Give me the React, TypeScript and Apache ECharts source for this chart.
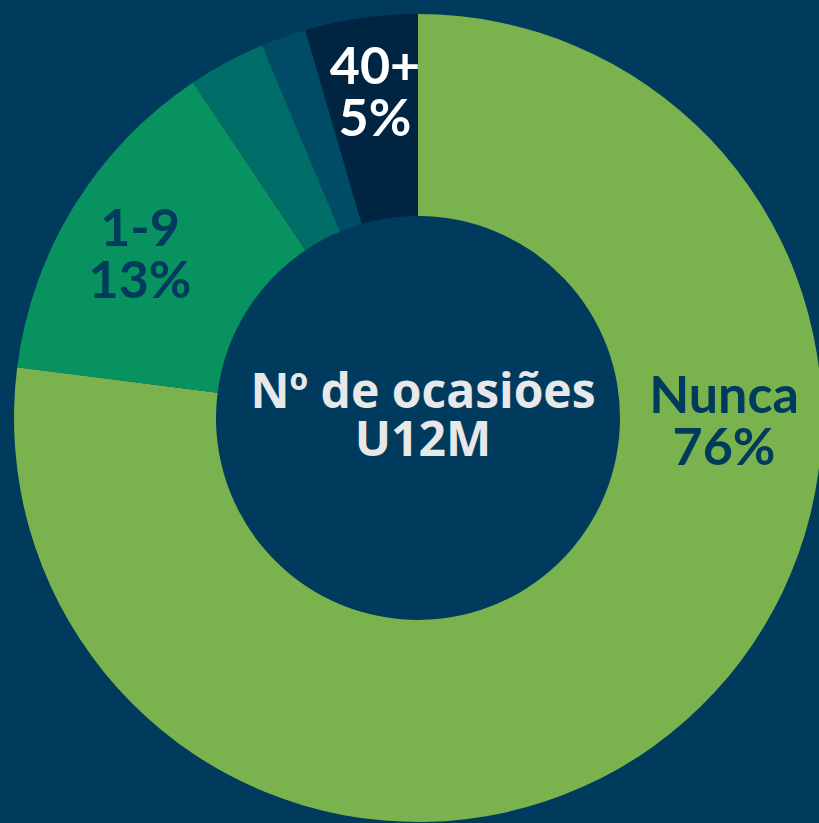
import React, { useEffect, useRef } from "react";
import * as echarts from "echarts";

const categories = ["Nunca", "1-9", "10-19", "20-39", "40+"];
const shares = [77.0, 13.6, 3.1, 1.8, 4.5];
const percentLabels = ["76%", "13%", "", "", "5%"];
const showLabel = [true, true, false, false, true];
const sliceColors = ["#7ab24e", "#079260", "#006d68", "#004b66", "#002543"];
const labelColors = ["#003a5c", "#003a5c", "#ffffff", "#ffffff", "#ffffff"];
const labelPos = [
  [724, 419],
  [140, 252],
  [0, 0],
  [0, 0],
  [375, 90],
];
const centerTitle = "Nº de ocasiões\nU12M";

export default function App() {
  const ref = useRef<HTMLDivElement>(null);
  useEffect(() => {
    if (!ref.current) return;
    const chart = echarts.init(ref.current, null, { renderer: "svg" });
    chart.setOption({
      animation: false,
      backgroundColor: "#003a5c",
      graphic: [
        {
          type: "text",
          x: 423,
          y: 413,
          z: 100,
          style: {
            text: centerTitle,
            align: "center",
            verticalAlign: "middle",
            fill: "#e8e8e8",
            font: "bold 48px 'Open Sans'",
            lineHeight: 48,
          },
        },
      ],
      series: [
        {
          type: "pie",
          silent: true,
          center: [418, 418],
          radius: [202, 404],
          startAngle: 90,
          clockwise: true,
          avoidLabelOverlap: false,
          label: {
            show: true,
            position: "inside",
            fontFamily: "Lato",
            fontWeight: "bold",
            fontSize: 52,
            lineHeight: 52,
            align: "center",
            verticalAlign: "middle",
          },
          labelLine: { show: false },
          labelLayout: (params: any) => {
            const p = labelPos[params.dataIndex];
            return { x: p[0], y: p[1], align: "center", verticalAlign: "middle" };
          },
          data: categories.map((c, i) => ({
            name: c,
            value: shares[i],
            itemStyle: { color: sliceColors[i] },
            label: {
              show: showLabel[i],
              color: labelColors[i],
              formatter: c + "\n" + percentLabels[i],
            },
          })),
        },
      ],
    });
    return () => chart.dispose();
  }, []);
  return (
    <div
      ref={ref}
      style={{ position: "fixed", left: 0, top: 0, width: 819, height: 823 }}
    />
  );
}
